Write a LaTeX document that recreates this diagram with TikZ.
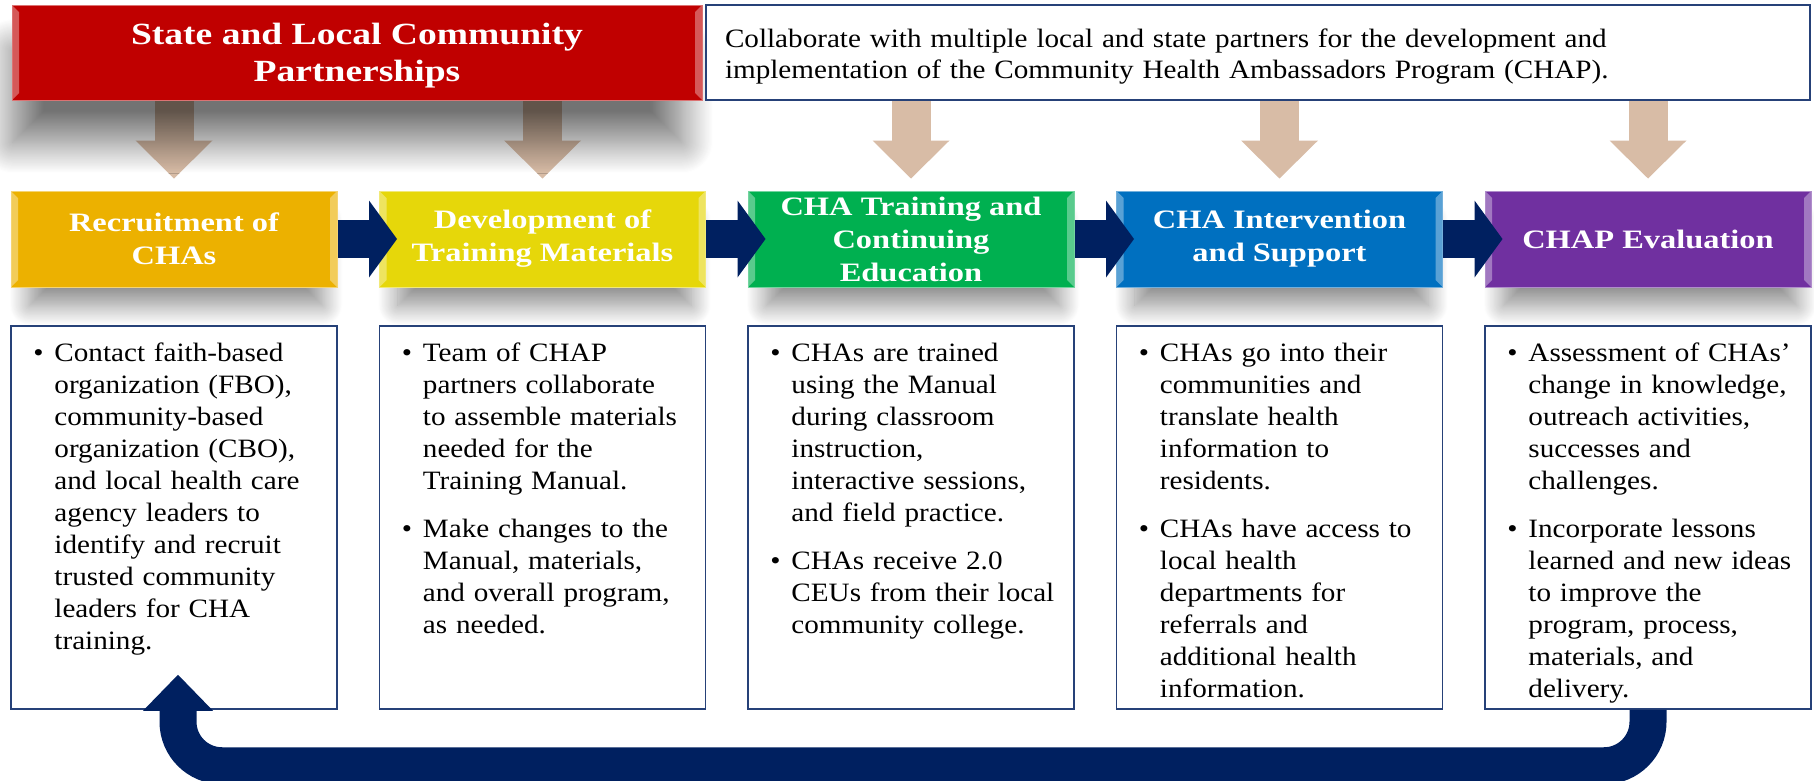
\documentclass[tikz,border=0pt]{standalone}
\usepackage{fontspec}
\setmainfont{Liberation Serif}[FakeStretch=1.1]
\newfontfamily\headfont{Liberation Serif}[FakeStretch=1.22]
\usetikzlibrary{arrows.meta,shadows.blur,backgrounds}

\definecolor{chapred}{RGB}{192,0,0}
\definecolor{chaporange}{RGB}{236,177,0}
\definecolor{chapyellow}{RGB}{230,215,10}
\definecolor{chapgreen}{RGB}{0,176,80}
\definecolor{chapblue}{RGB}{0,112,192}
\definecolor{chappurple}{RGB}{112,48,160}
\definecolor{navy}{RGB}{0,32,96}
\definecolor{feedtan}{RGB}{216,188,166}
\colorlet{box edge}{navy!85!white}

\def\pbb{path picture bounding box}
% one bullet point, hanging indent for the wrapped lines
\newcommand{\itm}[2][0pt]{\par\vspace{#1}\hangindent=21pt\hangafter=1%
  \noindent\makebox[21pt][l]{\textbullet}#2\par}

\tikzset{
  bevel/.style={path picture={
      \fill[white,opacity=.35] (\pbb.north west) -- ([shift={(7pt,-7pt)}]\pbb.north west)
        -- ([shift={(7pt,7pt)}]\pbb.south west) -- (\pbb.south west) -- cycle;
      \fill[white,opacity=.35] (\pbb.north east) -- ([shift={(-7pt,-7pt)}]\pbb.north east)
        -- ([shift={(-7pt,7pt)}]\pbb.south east) -- (\pbb.south east) -- cycle;}},
  banner/.style={bevel, fill=chapred, draw=chapred!55!white, line width=1pt,
    minimum width=690pt, minimum height=95pt, inner sep=0pt, align=center, text=white,
    font=\headfont\bfseries\fontsize{30.8}{37}\selectfont,
    blur shadow={shadow xshift=-10pt, shadow yshift=-45pt, shadow scale=.97,
      shadow blur radius=32pt, shadow blur steps=30, shadow opacity=55}},
  aim/.style={draw=box edge, line width=1.5pt, fill=white, text width=1066pt,
    inner xsep=19pt, inner ysep=0pt, minimum height=95pt, align=left,
    font=\fontsize{26.5}{31}\selectfont},
  phase/.style={bevel, fill=#1, draw=#1!55!white, line width=1pt,
    minimum width=326pt, minimum height=96pt, inner sep=0pt, align=center, text=white,
    font=\headfont\bfseries\fontsize{26.6}{33}\selectfont,
    blur shadow={shadow yshift=-26pt, shadow scale=.9, shadow blur radius=22pt,
      shadow blur steps=25, shadow opacity=45}},
  detail/.style={draw=box edge, line width=1.5pt, fill=white,
    minimum width=326pt, minimum height=383pt, inner sep=0pt},
  notes/.style={anchor=north west, text width=310pt, align=left, inner sep=0pt,
    font=\fontsize{26.5}{32}\selectfont},
  feed/.style={draw=feedtan, line width=39pt,
    -{Triangle[width=77pt,length=38pt,line width=0pt]}},
  flow/.style={draw=navy, line width=38pt,
    -{Triangle[width=77pt,length=28pt,line width=0pt]}},
  loopback/.style={draw=navy, line width=37pt, rounded corners=44pt,
    -{Triangle[width=70pt,length=36pt,line width=0pt]}}
}

\begin{document}
\begin{tikzpicture}[x=1pt,y=-1pt]
  \useasboundingbox (0,0) rectangle (1814,780);

  \node[banner] (state) at (357,52.5) {\rule{0pt}{28pt}State and Local Community\\Partnerships};
  \node[aim] (aim) at (1258,52.5)
    {\rule{0pt}{27pt}Collaborate with multiple local and state partners for the development and\\
     implementation of the Community Health Ambassadors Program (CHAP).};

  % the five phases
  \node[phase=chaporange] (c1) at (174,239)    {Recruitment of\\CHAs};
  \node[phase=chapyellow] (c2) at (542.5,239)  {Development of\\Training Materials};
  \node[phase=chapgreen]  (c3) at (911,239)    {CHA Training and\\Continuing\\Education};
  \node[phase=chapblue]   (c4) at (1279.5,239) {CHA Intervention\\and Support};
  \node[phase=chappurple] (c5) at (1648,239)   {CHAP Evaluation};

  % what happens in each phase
  \node[detail] (d1) at (174,517.5) {};
  \node[detail] (d2) at (542.5,517.5) {};
  \node[detail] (d3) at (911,517.5) {};
  \node[detail] (d4) at (1279.5,517.5) {};
  \node[detail] (d5) at (1648,517.5) {};

  \node[notes] (n1) at ([shift={(23pt,-4pt)}]d1.north west) {%
    \itm{Contact faith-based\newline organization (FBO),\newline community-based\newline
      organization (CBO),\newline and local health care\newline agency leaders to\newline
      identify and recruit\newline trusted community\newline leaders for CHA\newline training.}};
  \node[notes] (n2) at ([shift={(23pt,-4pt)}]d2.north west) {%
    \itm{Team of CHAP\newline partners collaborate\newline to assemble materials\newline
      needed for the\newline Training Manual.}
    \itm[16pt]{Make changes to the\newline Manual, materials,\newline and overall program,\newline as needed.}};
  \node[notes] (n3) at ([shift={(23pt,-4pt)}]d3.north west) {%
    \itm{CHAs are trained\newline using the Manual\newline during classroom\newline
      instruction,\newline interactive sessions,\newline and field practice.}
    \itm[16pt]{CHAs receive 2.0\newline CEUs from their local\newline community college.}};
  \node[notes] (n4) at ([shift={(23pt,-4pt)}]d4.north west) {%
    \itm{CHAs go into their\newline communities and\newline translate health\newline
      information to\newline residents.}
    \itm[16pt]{CHAs have access to\newline local health\newline departments for\newline
      referrals and\newline additional health\newline information.}};
  \node[notes] (n5) at ([shift={(23pt,-4pt)}]d5.north west) {%
    \itm{Assessment of CHAs’\newline change in knowledge,\newline outreach activities,\newline
      successes and\newline challenges.}
    \itm[16pt]{Incorporate lessons\newline learned and new ideas\newline to improve the\newline
      program, process,\newline materials, and\newline delivery.}};

  % partners feed every phase
  \begin{scope}[on background layer]
    \draw[feed] (c1 |- state.south) -- ([yshift=12pt]c1.north);
    \draw[feed] (c2 |- state.south) -- ([yshift=12pt]c2.north);
    \draw[feed] (c3 |- aim.south) -- ([yshift=12pt]c3.north);
    \draw[feed] (c4 |- aim.south) -- ([yshift=12pt]c4.north);
    \draw[feed] (c5 |- aim.south) -- ([yshift=12pt]c5.north);
  \end{scope}

  \draw[flow] (c1.east) -- ([xshift=18pt]c2.west);
  \draw[flow] (c2.east) -- ([xshift=18pt]c3.west);
  \draw[flow] (c3.east) -- ([xshift=18pt]c4.west);
  \draw[flow] (c4.east) -- ([xshift=18pt]c5.west);

  % evaluation goes back into recruitment
  \draw[loopback] (d5.south) -- ++(0,56) -| ([shift={(4pt,35pt)}]d1.south);
\end{tikzpicture}
\end{document}
